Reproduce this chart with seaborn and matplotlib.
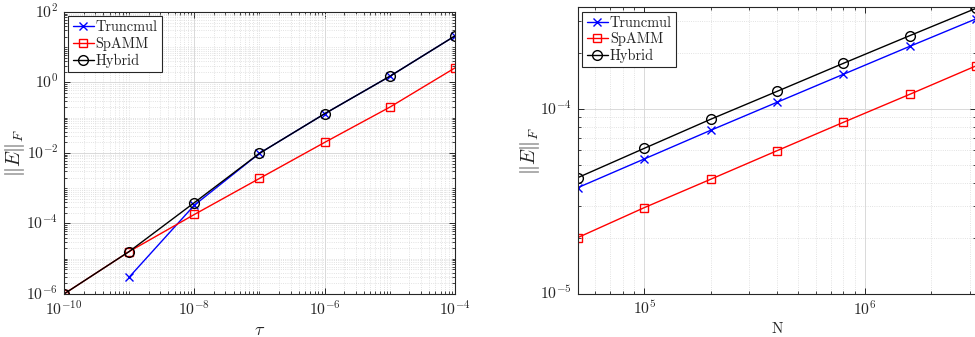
import numpy as np
import pandas as pd
import matplotlib
matplotlib.use("Agg")
import matplotlib.pyplot as plt
import matplotlib.ticker as mticker
import matplotlib.transforms as mtrans
import seaborn as sns

# ---- data: left panel (error vs tau) ----
tau = [1e-10, 1e-9, 1e-8, 1e-7, 1e-6, 1e-5, 1e-4]
left_trunc = [np.nan, 3.0e-6, 3.3e-4, 9.8e-3, 0.13, 1.5, 21.0]
left_spamm = [1.0e-6, 1.6e-5, 1.8e-4, 1.9e-3, 0.020, 0.20, 2.6]
left_hybrid = [1.0e-6, 1.6e-5, 3.9e-4, 9.8e-3, 0.13, 1.5, 21.0]

# ---- data: right panel (error vs N) ----
N = [5e4, 1e5, 2e5, 4e5, 8e5, 1.6e6, 3.2e6]
right_trunc = [3.76e-5, 5.37e-5, 7.67e-5, 1.087e-4, 1.54e-4, 2.18e-4, 3.07e-4]
right_spamm = [2.02e-5, 2.93e-5, 4.17e-5, 5.95e-5, 8.47e-5, 1.20e-4, 1.71e-4]
right_hybrid = [4.26e-5, 6.13e-5, 8.8e-5, 1.245e-4, 1.765e-4, 2.49e-4, 3.50e-4]

series_names = ["Truncmul", "SpAMM", "Hybrid"]
colors = ["#0000ff", "#ff0000", "#000000"]
markers = ["x", "s", "o"]
msizes = [6, 6.3, 7]

sns.set_style("ticks")
plt.rcParams["font.family"] = ["cmr10", "DejaVu Serif"]
plt.rcParams["mathtext.fontset"] = "cm"
plt.rcParams["axes.unicode_minus"] = False
plt.rcParams["axes.formatter.use_mathtext"] = True

fig = plt.figure(figsize=(9.75, 3.37), dpi=100)
axL = fig.add_axes([0.0656, 0.1276, 0.4011, 0.8368])
axR = fig.add_axes([0.5928, 0.1276, 0.4082, 0.8510])

tick_col = "#262626"


def draw(ax, x, ys):
    for name, y, c, m, ms in zip(series_names, ys, colors, markers, msizes):
        df = pd.DataFrame({"x": x, "y": y}).dropna()
        sns.lineplot(data=df, x="x", y="y", ax=ax, color=c, marker=m,
                     markersize=ms, markerfacecolor="none", markeredgecolor=c,
                     markeredgewidth=1.0, linewidth=1.0, label=name,
                     estimator=None, sort=False)
    ax.set_xscale("log")
    ax.set_yscale("log")


draw(axL, tau, [left_trunc, left_spamm, left_hybrid])
draw(axR, N, [right_trunc, right_spamm, right_hybrid])

axL.set_xlim(1e-10, 1e-4)
axL.set_ylim(1e-6, 1e2)
axL.xaxis.set_major_locator(mticker.FixedLocator([1e-10, 1e-8, 1e-6, 1e-4]))
axL.yaxis.set_major_locator(mticker.FixedLocator([1e-6, 1e-4, 1e-2, 1e0, 1e2]))

axR.set_xlim(5e4, 3.2e6)
axR.set_ylim(1e-5, 3.55e-4)
axR.xaxis.set_major_locator(mticker.FixedLocator([1e5, 1e6]))
axR.yaxis.set_major_locator(mticker.FixedLocator([1e-5, 1e-4]))

shift_up = mtrans.ScaledTranslation(0, 2.5 / 100, fig.dpi_scale_trans)

for ax in (axL, axR):
    ax.xaxis.set_major_formatter(mticker.LogFormatterSciNotation())
    ax.yaxis.set_major_formatter(mticker.LogFormatterSciNotation())
    ax.xaxis.set_minor_locator(mticker.LogLocator(base=10, subs=np.arange(1, 10), numticks=100))
    ax.yaxis.set_minor_locator(mticker.LogLocator(base=10, subs=np.arange(1, 10), numticks=100))
    ax.xaxis.set_minor_formatter(mticker.NullFormatter())
    ax.yaxis.set_minor_formatter(mticker.NullFormatter())
    ax.grid(True, which="major", color="#d9d9d9", linewidth=0.7, linestyle="-")
    ax.grid(True, which="minor", color="#d9d9d9", linewidth=0.6, linestyle=":")
    ax.set_axisbelow(True)
    ax.tick_params(which="both", direction="in", top=True, right=True,
                   colors=tick_col, labelcolor=tick_col, labelsize=11.3, pad=4)
    ax.tick_params(which="major", length=4, width=0.7)
    ax.tick_params(which="minor", length=2.2, width=0.6)
    for lab in ax.get_yticklabels():
        lab.set_transform(lab.get_transform() + shift_up)
    for s in ax.spines.values():
        s.set_color(tick_col)
        s.set_linewidth(0.8)
    ax.set_ylabel(r"$\|E\|_F$", fontsize=14.5, color=tick_col)
    leg = ax.legend(loc="upper left", fontsize=10.4, frameon=True, fancybox=False,
                    edgecolor=tick_col, framealpha=1, borderaxespad=0.3,
                    handlelength=1.5, handletextpad=0.1, borderpad=0.3,
                    labelspacing=0.18)
    leg.get_frame().set_linewidth(0.8)

axL.yaxis.set_label_coords(-0.094, 0.5)
axR.yaxis.set_label_coords(-0.09, 0.5)

axL.set_xlabel(r"$\tau$", fontsize=13, color=tick_col)
axR.set_xlabel("N", fontsize=11, color=tick_col)
axL.xaxis.set_label_coords(0.5, -0.10)
axR.xaxis.set_label_coords(0.5, -0.10)

fig.savefig("out.png", dpi=100)
